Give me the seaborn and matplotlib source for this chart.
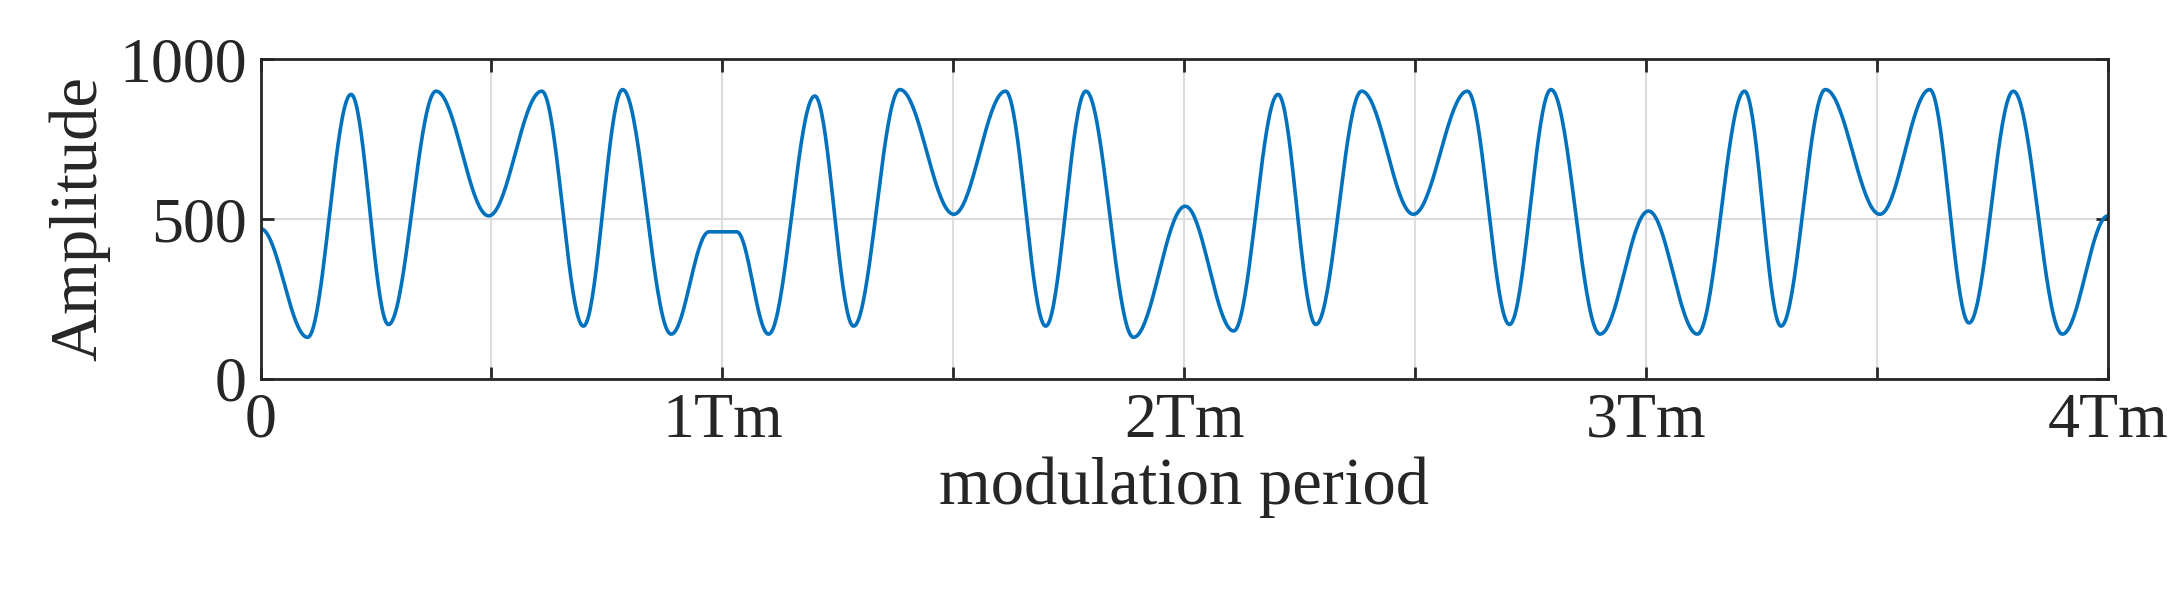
import numpy as np
import pandas as pd
import seaborn as sns
import matplotlib
matplotlib.use("Agg")
import matplotlib.pyplot as plt

# extrema of the curve (x in Tm, amplitude)
ext_x = [0, 0.102, 0.196, 0.277, 0.380, 0.494, 0.609, 0.699, 0.784, 0.889,
         0.971, 1.031, 1.100, 1.200, 1.284, 1.384, 1.501, 1.613, 1.700, 1.787,
         1.890, 2.002, 2.107, 2.203, 2.285, 2.384, 2.496, 2.613, 2.704, 2.794,
         2.900, 3.005, 3.111, 3.213, 3.292, 3.388, 3.506, 3.614, 3.699, 3.795,
         3.901, 4.0]
ext_y = [470, 130, 890, 170, 900, 510, 900, 165, 905, 140,
         460, 460, 140, 885, 165, 905, 515, 900, 165, 900,
         130, 540, 150, 890, 170, 900, 515, 900, 170, 905,
         140, 525, 140, 900, 165, 905, 515, 905, 175, 900,
         140, 510]
tick_pos = [0, 0.5, 1, 1.5, 2, 2.5, 3, 3.5, 4]
tick_labels = ["0", "", "1Tm", "", "2Tm", "", "3Tm", "", "4Tm"]

# smooth half-cosine segments between consecutive extrema
xs, ys = [], []
for i in range(len(ext_x) - 1):
    t = np.linspace(0, 1, 40, endpoint=False)
    w = (1 - np.cos(np.pi * t)) / 2
    xs.append(ext_x[i] + (ext_x[i + 1] - ext_x[i]) * t)
    ys.append(ext_y[i] + (ext_y[i + 1] - ext_y[i]) * w)
xs.append([ext_x[-1]])
ys.append([ext_y[-1]])
df = pd.DataFrame({"x": np.concatenate(xs), "y": np.concatenate(ys)})

sns.set_theme(style="white")
plt.rcParams["font.family"] = ["Liberation Serif", "DejaVu Serif"]

fig = plt.figure(figsize=(21.71, 5.92), dpi=100)
ax = fig.add_axes([0.12, 0.36, 0.851, 0.54])
sns.lineplot(data=df, x="x", y="y", ax=ax, color="#0072BD", linewidth=2.6, sort=False)

ax.set_xlim(0, 4)
ax.set_ylim(0, 1000)
ax.set_xticks(tick_pos)
ax.set_xticklabels(tick_labels)
ax.set_yticks([0, 500, 1000])
ax.grid(True, color="#dcdcdc", linewidth=1.5)
ax.tick_params(direction="in", length=9, width=2, labelsize=46, pad=10,
               top=True, right=True, bottom=True, left=True)
for s in ax.spines.values():
    s.set_color("#262626")
    s.set_linewidth(2)
ax.set_xlabel("modulation period", fontsize=48, labelpad=4)
ax.set_ylabel("Amplitude", fontsize=48, labelpad=6)

fig.savefig("out.png", dpi=100)
